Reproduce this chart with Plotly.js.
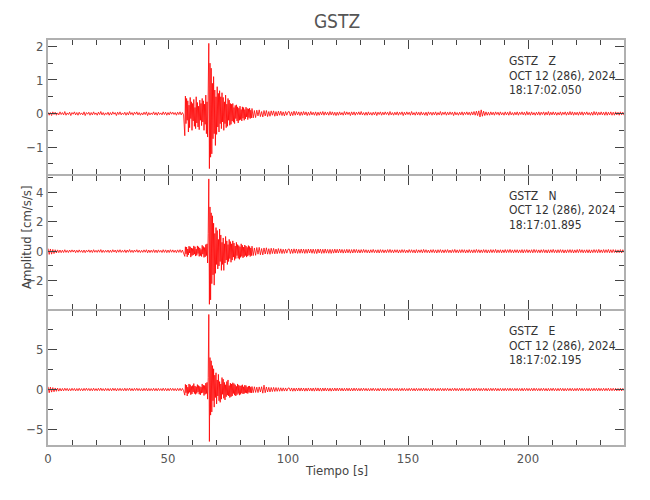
<!DOCTYPE html>
<html>
<head>
<meta charset="utf-8">
<script src="https://cdn.plot.ly/plotly-3.0.1.min.js"></script>
<style>html,body{margin:0;padding:0;background:#fff;}#chart{width:650px;height:500px;}</style>
</head>
<body>
<div id="chart"></div>
<script>
// Sampling of the traces: coarse outside the strong motion, finer during it
const dtCoarse = 0.5;
const dtFine = 0.25;
const preStart = 0, eventStart = 57, postStart = 85.5;

const chartTitle = "GSTZ";
const yTitle = "Amplitud [cm/s/s]";
const xTitle = "Tiempo [s]";
const stationLabels = [
  ["GSTZ\u00a0\u00a0\u00a0Z", "OCT 12 (286), 2024", "18:17:02.050"],
  ["GSTZ\u00a0\u00a0\u00a0N", "OCT 12 (286), 2024", "18:17:01.895"],
  ["GSTZ\u00a0\u00a0\u00a0E", "OCT 12 (286), 2024", "18:17:02.195"]
];
const xTickVals = [0, 50, 100, 150, 200];

// ---------- Z component (cm/s/s) ----------
const zPre = [
0.04,-0.05,0.03,-0.06,0.05,-0.03,0.04,-0.05,0.02,-0.04,
0.05,-0.03,0.03,-0.04,0.06,-0.05,0.02,-0.03,0.04,-0.06,
0.03,-0.02,0.05,-0.04,0.03,-0.05,0.04,-0.03,0.02,-0.04,
0.05,-0.06,0.03,-0.02,0.04,-0.05,0.03,-0.04,0.05,-0.03,
0.02,-0.05,0.04,-0.03,0.06,-0.04,0.03,-0.05,0.02,-0.03,
0.04,-0.05,0.03,-0.04,0.05,-0.02,0.03,-0.06,0.04,-0.03,
0.05,-0.04,0.02,-0.03,0.04,-0.05,0.03,-0.04,0.06,-0.03,
0.03,-0.05,0.04,-0.02,0.05,-0.04,0.03,-0.05,0.02,-0.04,
0.04,-0.03,0.05,-0.06,0.03,-0.04,0.02,-0.03,0.05,-0.04,
0.03,-0.05,0.04,-0.03,0.02,-0.04,0.05,-0.03,0.04,-0.05,
0.03,-0.04,0.05,-0.02,0.04,-0.03,0.03,-0.05,0.04,-0.03,
0.05,-0.04,0.03,-0.04
];
const zEvent = [
-0.66,0.52,-0.3,0.45,-0.2,0.38,-0.55,0.25,-0.42,0.48,
-0.15,0.35,-0.5,0.3,-0.22,0.42,-0.38,0.18,-0.45,0.5,
-0.28,0.33,-0.4,0.22,-0.48,0.4,-0.2,0.3,-0.36,0.45,
-0.25,0.38,-0.5,0.28,-0.32,0.55,-0.6,0.35,-0.7,0.9,
2.09,-1.64,1.5,-1.3,1.35,
-1.2,0.9,-0.75,1.1,-0.6,0.7,-0.95,0.5,-0.62,0.8,-0.4,0.6,-0.55,0.68,-0.3,0.5,
-0.45,0.62,-0.25,0.48,-0.5,0.35,-0.3,0.55,-0.42,0.28,-0.38,0.45,-0.2,0.4,-0.35,0.3,
-0.32,0.28,-0.22,0.3,-0.26,0.18,-0.3,0.24,-0.15,0.26,-0.22,0.2,-0.28,0.16,-0.2,0.22,-0.18,0.12,
-0.22,0.2,-0.14,0.18,-0.2,0.12,-0.16,0.19,-0.1,0.15,-0.18,0.14,-0.12,0.16,-0.15,0.1,-0.13,0.15
];
const zPost = [
-0.13,0.09,-0.12,0.1,-0.07,0.11,-0.09,0.06,-0.1,0.09,
-0.07,0.09,-0.09,0.06,-0.08,0.08,-0.05,0.08,-0.08,0.06,
-0.07,0.07,-0.05,0.07,-0.06,0.05,-0.07,0.06,-0.05,
0.05,
0.06,-0.07,0.05,-0.06,0.07,-0.05,0.06,-0.04,0.05,-0.06,
0.05,-0.05,0.06,-0.04,0.05,-0.06,0.04,-0.05,0.06,-0.04,
0.04,-0.05,0.05,-0.06,0.04,-0.05,0.05,-0.04,0.06,-0.05,
0.05,-0.04,0.04,-0.05,0.06,-0.04,0.05,-0.05,0.04,-0.06,
0.04,-0.05,0.05,-0.04,0.03,-0.05,0.06,-0.04,0.05,-0.03,
0.04,-0.06,0.05,-0.04,0.05,-0.05,0.04,-0.03,0.05,-0.04,
0.06,-0.04,0.03,-0.05,0.04,-0.05,0.05,-0.04,0.03,-0.05,
0.04,-0.04,0.05,-0.06,0.04,-0.03,0.05,-0.05,0.04,-0.04,
0.05,-0.03,0.04,-0.05,0.06,-0.04,0.03,-0.05,0.04,-0.04,
0.05,-0.05,0.04,-0.03,0.05,-0.06,0.04,-0.04,0.05,-0.03,
0.04,-0.05,0.06,-0.04,0.03,-0.05,0.05,-0.04,0.04,-0.05,
0.05,-0.04,0.03,-0.05,0.04,-0.06,0.05,-0.03,0.04,-0.05,
0.04,-0.04,0.05,-0.05,0.03,-0.04,0.06,-0.05,0.04,-0.03,
0.05,-0.05,0.04,-0.04,0.05,-0.03,0.04,-0.06,0.05,-0.04,
0.03,-0.05,0.04,-0.04,0.05,-0.05,0.04,-0.03,0.05,-0.04,
0.04,-0.05,0.05,-0.04,0.06,-0.05,0.07,-0.06,0.08,-0.10,
0.11,-0.08,0.07,-0.06,0.05,-0.05,0.04,-0.05,0.05,-0.04,
0.04,-0.05,0.05,-0.03,0.04,-0.05,0.05,-0.04,0.03,-0.05,
0.05,-0.04,0.04,-0.05,0.06,-0.04,0.03,-0.05,0.04,-0.04,
0.05,-0.05,0.04,-0.03,0.05,-0.04,0.04,-0.05,0.06,-0.04,
0.04,-0.05,0.05,-0.04,0.03,-0.05,0.04,-0.04,0.05,-0.05,
0.04,-0.03,0.05,-0.05,0.04,-0.04,0.06,-0.05,0.04,-0.04,
0.05,-0.04,0.04,-0.05,0.03,-0.04,0.05,-0.05,0.04,-0.03,
0.05,-0.05,0.04,-0.04,0.06,-0.04,0.05,-0.05,0.04,-0.04,
0.04,-0.05,0.05,-0.04,0.05,-0.05,0.04,-0.03,0.05,-0.04,
0.03,-0.05,0.04,-0.05,0.06,-0.04,0.05,-0.05,0.04,-0.04,
0.05,-0.04,0.04,-0.05,0.05,-0.05,0.04,-0.04,0.05,-0.05,
0.04,-0.05,0.05,-0.04,0.04,-0.05,0.05,-0.04,0.04,-0.05
];

// ---------- N component (cm/s/s) ----------
const nPre = [
0.18,-0.22,0.15,-0.2,0.12,-0.16,0.1,-0.12,0.09,-0.1,
0.08,-0.1,0.07,-0.09,0.1,-0.08,0.06,-0.09,0.08,-0.07,
0.09,-0.06,0.08,-0.1,0.07,-0.08,0.09,-0.07,0.06,-0.09,
0.08,-0.1,0.07,-0.06,0.09,-0.08,0.07,-0.09,0.1,-0.07,
0.06,-0.08,0.09,-0.07,0.11,-0.09,0.07,-0.08,0.06,-0.07,
0.08,-0.09,0.07,-0.08,0.1,-0.06,0.08,-0.1,0.09,-0.07,
0.1,-0.08,0.06,-0.07,0.09,-0.1,0.08,-0.07,0.11,-0.08,
0.07,-0.09,0.08,-0.06,0.1,-0.08,0.07,-0.09,0.06,-0.08,
0.09,-0.07,0.1,-0.11,0.08,-0.09,0.07,-0.08,0.1,-0.09,
0.08,-0.1,0.09,-0.07,0.06,-0.09,0.1,-0.08,0.09,-0.1,
0.08,-0.09,0.1,-0.07,0.09,-0.08,0.07,-0.1,0.09,-0.08,
0.1,-0.09,0.08,-0.09
];
const nEvent = [
-0.35,0.3,-0.18,0.28,-0.38,0.15,-0.25,0.34,-0.12,0.3,
-0.4,0.22,-0.3,0.18,-0.26,0.36,-0.2,0.3,-0.33,0.14,
-0.28,0.36,-0.16,0.3,-0.35,0.22,-0.3,0.12,-0.36,0.4,
-0.2,0.32,-0.42,0.25,-0.38,0.45,-0.3,0.5,-0.8,1.2,
4.9,-3.6,3.0,-3.3,2.6,
-2.2,2.4,-1.6,1.9,-2.3,1.2,-1.5,1.6,-0.9,1.4,-1.2,0.8,-1.0,1.5,-0.7,1.1,
-1.3,0.6,-0.9,0.9,-1.3,0.5,-0.8,1.0,-0.6,0.7,-0.9,0.45,-0.7,0.8,-0.5,0.65,
-0.75,0.5,-0.6,0.7,-0.4,0.55,-0.62,0.35,-0.5,0.6,-0.3,0.45,-0.48,0.38,-0.55,0.3,-0.42,0.5,
-0.35,0.4,-0.45,0.28,-0.38,0.42,-0.3,0.35,-0.4,0.26,-0.33,0.38,-0.25,0.32,-0.36,0.22,-0.3,0.34
];
const nPost = [
-0.3,0.22,-0.28,0.25,-0.2,0.26,-0.24,0.18,-0.25,0.22,
-0.19,0.23,-0.2,0.17,-0.21,0.2,-0.16,0.19,-0.18,0.15,
-0.17,0.18,-0.14,0.16,-0.16,0.13,-0.15,0.14,-0.13,
0.13,
0.15,-0.16,0.14,-0.15,0.16,-0.13,0.15,-0.15,0.13,-0.14,
0.15,-0.13,0.14,-0.15,0.13,-0.14,0.15,-0.12,0.14,-0.14,
0.14,-0.15,0.13,-0.16,0.15,-0.12,0.14,-0.15,0.13,-0.14,
0.15,-0.13,0.12,-0.14,0.13,-0.15,0.12,-0.13,0.14,-0.12,
0.13,-0.12,0.14,-0.11,0.12,-0.13,0.11,-0.12,0.13,-0.11,
0.12,-0.13,0.11,-0.12,0.13,-0.1,0.12,-0.11,0.1,-0.12,
0.11,-0.1,0.12,-0.09,0.1,-0.11,0.09,-0.12,0.1,-0.09,
0.12,-0.1,0.09,-0.11,0.1,-0.12,0.11,-0.09,0.1,-0.11,
0.09,-0.1,0.11,-0.09,0.12,-0.1,0.09,-0.11,0.1,-0.08,
0.1,-0.12,0.09,-0.1,0.11,-0.09,0.1,-0.11,0.08,-0.1,
0.11,-0.09,0.1,-0.1,0.09,-0.12,0.11,-0.1,0.09,-0.09,
0.1,-0.11,0.12,-0.09,0.1,-0.1,0.08,-0.11,0.1,-0.09,
0.11,-0.1,0.09,-0.12,0.1,-0.09,0.11,-0.1,0.09,-0.11,
0.1,-0.09,0.11,-0.1,0.08,-0.11,0.1,-0.09,0.12,-0.1,
0.09,-0.11,0.1,-0.1,0.11,-0.09,0.1,-0.12,0.09,-0.1,
0.11,-0.1,0.09,-0.11,0.1,-0.1,0.12,-0.09,0.1,-0.11,
0.09,-0.1,0.11,-0.09,0.1,-0.12,0.09,-0.1,0.11,-0.1,
0.1,-0.09,0.12,-0.11,0.09,-0.1,0.1,-0.11,0.09,-0.1,
0.11,-0.1,0.1,-0.09,0.12,-0.1,0.09,-0.11,0.1,-0.09,
0.1,-0.11,0.09,-0.1,0.11,-0.12,0.1,-0.09,0.11,-0.1,
0.09,-0.1,0.1,-0.11,0.12,-0.09,0.1,-0.1,0.09,-0.11,
0.1,-0.09,0.11,-0.1,0.09,-0.12,0.1,-0.11,0.1,-0.09,
0.12,-0.1,0.09,-0.11,0.1,-0.1,0.11,-0.09,0.1,-0.12,
0.09,-0.11,0.1,-0.09,0.11,-0.1,0.1,-0.12,0.09,-0.1,
0.11,-0.1,0.12,-0.09,0.1,-0.11,0.09,-0.1,0.1,-0.11,
0.1,-0.12,0.09,-0.1,0.11,-0.09,0.1,-0.11,0.12,-0.1,
0.09,-0.1,0.11,-0.1,0.1,-0.09,0.12,-0.11,0.1,-0.1,
0.11,-0.09,0.1,-0.11,0.09,-0.1,0.11,-0.12,0.1,-0.09
];

// ---------- E component (cm/s/s) ----------
const ePre = [
0.35,-0.4,0.3,-0.32,0.25,-0.28,0.2,-0.22,0.18,-0.2,
0.15,-0.18,0.14,-0.16,0.17,-0.13,0.15,-0.17,0.12,-0.15,
0.16,-0.12,0.14,-0.17,0.13,-0.15,0.16,-0.14,0.12,-0.16,
0.15,-0.13,0.17,-0.12,0.14,-0.16,0.13,-0.15,0.17,-0.14,
0.12,-0.15,0.16,-0.13,0.18,-0.14,0.12,-0.16,0.15,-0.13,
0.14,-0.16,0.13,-0.15,0.17,-0.12,0.15,-0.18,0.14,-0.13,
0.16,-0.14,0.12,-0.15,0.17,-0.16,0.14,-0.12,0.18,-0.15,
0.13,-0.16,0.15,-0.12,0.17,-0.14,0.13,-0.15,0.12,-0.16,
0.15,-0.13,0.16,-0.17,0.14,-0.15,0.12,-0.14,0.16,-0.15,
0.14,-0.16,0.15,-0.13,0.12,-0.15,0.17,-0.14,0.15,-0.16,
0.14,-0.15,0.16,-0.12,0.15,-0.14,0.13,-0.16,0.15,-0.14,
0.16,-0.15,0.14,-0.15
];
const eEvent = [
-0.7,0.65,-0.4,0.55,-0.8,0.3,-0.5,0.7,-0.35,0.6,
-0.65,0.4,-0.55,0.5,-0.3,0.75,-0.5,0.45,-0.6,0.35,
-0.48,0.62,-0.3,0.5,-0.58,0.4,-0.66,0.3,-0.45,0.7,
-0.4,0.55,-0.75,0.5,-0.6,0.8,-0.5,0.9,-1.2,1.5,
9.4,-6.5,4.0,-3.2,3.6,
-2.8,3.0,-1.4,2.6,-2.2,1.8,-1.0,2.1,-1.8,1.2,-0.8,1.9,-1.4,1.0,-1.6,0.7,
-1.2,1.5,-0.6,1.3,-1.1,0.9,-1.3,0.6,-0.9,1.0,-0.7,1.2,-0.8,0.5,-1.0,0.8,
-0.9,0.7,-0.8,0.85,-0.5,0.75,-0.7,0.6,-0.8,0.4,-0.65,0.7,-0.5,0.55,-0.7,0.45,-0.6,0.5,
-0.45,0.6,-0.55,0.35,-0.5,0.55,-0.4,0.5,-0.45,0.3,-0.5,0.42,-0.35,0.45,-0.4,0.3,-0.42,0.38
];
const ePost = [
-0.4,0.35,-0.36,0.3,-0.38,0.33,-0.3,0.35,-0.45,0.55,
-0.4,0.32,-0.3,0.28,-0.3,0.26,-0.25,0.27,-0.24,0.25,
-0.22,0.23,-0.21,0.22,-0.2,0.21,-0.19,0.2,-0.19,
0.18,
0.2,-0.19,0.2,-0.21,0.18,-0.2,0.19,-0.18,0.2,-0.19,
0.2,-0.18,0.19,-0.2,0.18,-0.19,0.2,-0.17,0.18,-0.19,
0.19,-0.2,0.21,-0.18,0.2,-0.19,0.18,-0.2,0.19,-0.18,
0.2,-0.18,0.17,-0.19,0.18,-0.2,0.17,-0.18,0.19,-0.17,
0.18,-0.17,0.19,-0.16,0.17,-0.18,0.16,-0.17,0.18,-0.16,
0.17,-0.18,0.16,-0.17,0.18,-0.15,0.17,-0.16,0.15,-0.17,
0.16,-0.15,0.17,-0.14,0.15,-0.16,0.14,-0.17,0.15,-0.14,
0.17,-0.15,0.14,-0.16,0.15,-0.17,0.16,-0.14,0.15,-0.16,
0.14,-0.15,0.16,-0.14,0.17,-0.15,0.14,-0.16,0.15,-0.13,
0.15,-0.17,0.14,-0.15,0.16,-0.14,0.15,-0.16,0.13,-0.15,
0.16,-0.14,0.15,-0.15,0.14,-0.17,0.16,-0.15,0.14,-0.14,
0.15,-0.16,0.17,-0.14,0.15,-0.15,0.13,-0.16,0.15,-0.14,
0.16,-0.15,0.14,-0.17,0.15,-0.14,0.16,-0.15,0.14,-0.16,
0.15,-0.14,0.16,-0.15,0.13,-0.16,0.15,-0.14,0.17,-0.15,
0.14,-0.16,0.15,-0.15,0.16,-0.14,0.15,-0.17,0.14,-0.15,
0.16,-0.15,0.14,-0.16,0.15,-0.15,0.17,-0.14,0.15,-0.16,
0.14,-0.15,0.16,-0.14,0.15,-0.17,0.14,-0.15,0.16,-0.15,
0.15,-0.14,0.17,-0.16,0.14,-0.15,0.15,-0.16,0.14,-0.15,
0.16,-0.15,0.15,-0.14,0.17,-0.15,0.14,-0.16,0.15,-0.14,
0.15,-0.16,0.14,-0.15,0.16,-0.17,0.15,-0.14,0.16,-0.15,
0.14,-0.15,0.15,-0.16,0.17,-0.14,0.15,-0.15,0.14,-0.16,
0.15,-0.14,0.16,-0.15,0.14,-0.17,0.15,-0.16,0.15,-0.14,
0.17,-0.15,0.14,-0.16,0.15,-0.15,0.16,-0.14,0.15,-0.17,
0.14,-0.16,0.15,-0.14,0.16,-0.15,0.15,-0.17,0.14,-0.15,
0.16,-0.15,0.17,-0.14,0.15,-0.16,0.14,-0.15,0.15,-0.16,
0.15,-0.17,0.14,-0.15,0.16,-0.14,0.15,-0.16,0.17,-0.15,
0.14,-0.15,0.16,-0.15,0.15,-0.14,0.17,-0.16,0.15,-0.15,
0.16,-0.14,0.15,-0.16,0.14,-0.15,0.16,-0.17,0.15,-0.14
];

// join the three sampled segments of a component into one time series
function buildSeries(pre, ev, post) {
  const x = [], y = [];
  const segs = [[pre, preStart, dtCoarse], [ev, eventStart, dtFine], [post, postStart, dtCoarse]];
  segs.forEach(([vals, t0, step]) => vals.forEach((v, i) => { x.push(t0 + i * step); y.push(v); }));
  return {x, y};
}

const FONT = "'DejaVu Sans Condensed', 'DejaVu Sans', sans-serif";
const traceColor = "#ff0000";

const sZ = buildSeries(zPre, zEvent, zPost);
const sN = buildSeries(nPre, nEvent, nPost);
const sE = buildSeries(ePre, eEvent, ePost);

const traces = [
  {x: sZ.x, y: sZ.y, xaxis: "x", yaxis: "y"},
  {x: sN.x, y: sN.y, xaxis: "x2", yaxis: "y2"},
  {x: sE.x, y: sE.y, xaxis: "x3", yaxis: "y3"}
].map(t => Object.assign(t, {type: "scatter", mode: "lines", line: {color: traceColor, width: 0.8}, hoverinfo: "skip", showlegend: false}));

function fnt(size, color) { return {family: FONT, size: size, color: color, stretch: "condensed"}; }

function xAx(anchor, labels) {
  return {
    anchor: anchor, range: [0, 240], domain: [0, 1],
    showline: true, linecolor: "#b0b0b0", linewidth: 2, mirror: "ticks",
    ticks: "inside", ticklen: 9, tickwidth: 1, tickcolor: "#444",
    tickmode: "array", tickvals: xTickVals, ticktext: xTickVals.map(String),
    minor: {dtick: 10, tick0: 0, ticks: "inside", ticklen: 5, tickcolor: "#444", tickwidth: 1},
    showticklabels: labels, showgrid: false, zeroline: false,
    tickfont: fnt(13, "#555")
  };
}
function yAx(anchor, dom, range, dtick, minorD) {
  return {
    anchor: anchor, domain: dom, range: range,
    showline: true, linecolor: "#b0b0b0", linewidth: 2, mirror: "ticks",
    ticks: "inside", ticklen: 9, tickwidth: 1, tickcolor: "#444",
    dtick: dtick, tick0: 0,
    minor: {dtick: minorD, tick0: 0, ticks: "inside", ticklen: 5, tickcolor: "#444", tickwidth: 1},
    showgrid: false, zeroline: false, exponentformat: "none",
    tickfont: fnt(13, "#555")
  };
}

const plotTop = 40, plotH = 405, plotL = 48, plotW = 576;
// panel height leaving 2px for each shared border line
const panelH = (plotH - 4) / 3;
const domBottom = [0, panelH / plotH];
const domMiddle = [(panelH + 2) / plotH, (2 * panelH + 2) / plotH];
const domTop = [(2 * panelH + 4) / plotH, 1];

const annotations = [];
const panelTops = [40, 175, 310];
stationLabels.forEach((lines, p) => {
  lines.forEach((txt, k) => {
    const ypx = panelTops[p] + 21 + k * 14.5;
    annotations.push({
      xref: "paper", yref: "paper",
      x: (507 - plotL) / plotW, y: 1 - (ypx - plotTop) / plotH,
      xanchor: "left", yanchor: "middle", showarrow: false,
      text: txt, font: fnt(12, "#333")
    });
  });
});
annotations.push({
  xref: "paper", yref: "paper", x: (26 - plotL) / plotW, y: 1 - (238 - plotTop) / plotH,
  xanchor: "center", yanchor: "middle", textangle: -90, showarrow: false,
  text: yTitle, font: fnt(13, "#444")
});
annotations.push({
  xref: "paper", yref: "paper", x: (336 - plotL) / plotW, y: 1 - (470 - plotTop) / plotH,
  xanchor: "center", yanchor: "middle", showarrow: false,
  text: xTitle, font: fnt(13, "#444")
});

const layout = {
  width: 650, height: 500,
  margin: {l: 48, r: 26, t: 40, b: 55, pad: 0},
  paper_bgcolor: "#fff", plot_bgcolor: "#fff",
  title: {text: chartTitle, x: 337 / 650, xanchor: "center", y: 1 - 21 / 500, yanchor: "middle",
          font: fnt(19, "#555")},
  xaxis: xAx("y", false),
  xaxis2: xAx("y2", false),
  xaxis3: xAx("y3", true),
  yaxis: yAx("x", domTop, [-1.79, 2.19], 1, 0.5),
  yaxis2: yAx("x2", domMiddle, [-3.94, 5.12], 2, 1),
  yaxis3: yAx("x3", domBottom, [-6.94, 9.79], 5, 2.5),
  annotations: annotations,
  hovermode: false
};

Plotly.newPlot("chart", traces, layout, {displayModeBar: false, staticPlot: true});
</script>
</body>
</html>
